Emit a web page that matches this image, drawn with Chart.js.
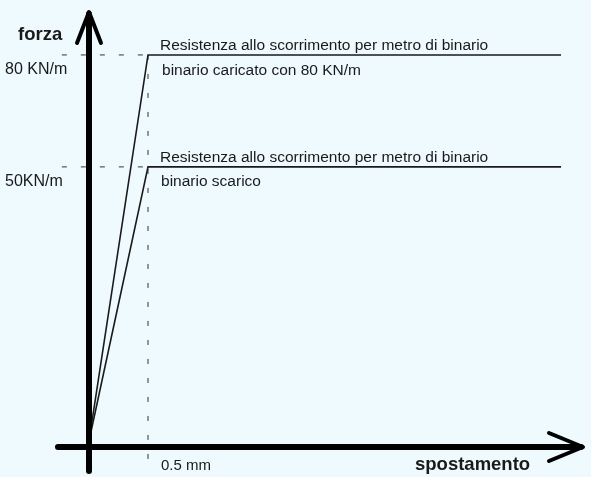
<!DOCTYPE html>
<html>
<head>
<meta charset="utf-8">
<script src="https://cdn.jsdelivr.net/npm/chart.js@4.4.0/dist/chart.umd.min.js"></script>
<style>
  html, body { margin: 0; padding: 0; background: #eefafd; }
  canvas { display: block; }
</style>
</head>
<body>
<canvas id="chart" width="591" height="477"></canvas>
<script>
// displacement (mm) and force (KN/m) of the two curves
const spostamento = [0, 0.5, 4.0];
const forzaCaricato = [0, 80, 80];
const forzaScarico = [0, 50, 50];

const yTicks = [80, 50];
const yTickLabels = ["80 KN/m", "50KN/m"];
const xTicks = [0.5];
const xTickLabels = ["0.5 mm"];

const testoSopra = "Resistenza allo scorrimento per metro di binario";
const testoSotto = ["binario caricato con 80 KN/m", "binario scarico"];

const FONT = "'Liberation Sans', Arial, sans-serif";
const INK = "#1a1a1a";

// the sketch is not to scale: the 50 level is drawn where 56.8 would be
const warpPts = [[0, 0], [50, 56.8], [80, 80]];
function warp(v) {
  if (v <= 0 || v >= 80) return v;
  for (let i = 1; i < warpPts.length; i++) {
    const [a0, b0] = warpPts[i - 1], [a1, b1] = warpPts[i];
    if (v <= a1) return b0 + (v - a0) * (b1 - b0) / (a1 - a0);
  }
  return v;
}
function unwarp(w) {
  if (w <= 0 || w >= 80) return w;
  for (let i = 1; i < warpPts.length; i++) {
    const [a0, b0] = warpPts[i - 1], [a1, b1] = warpPts[i];
    if (w <= b1) return a0 + (w - b0) * (a1 - a0) / (b1 - b0);
  }
  return w;
}

class SketchScale extends Chart.LinearScale {
  getPixelForValue(v) { return super.getPixelForValue(warp(v)); }
  getValueForPixel(p) { return unwarp(super.getValueForPixel(p)); }
}
SketchScale.id = "sketch";
SketchScale.defaults = Chart.LinearScale.defaults;
Chart.register(SketchScale);

const pts = (xs, ys) => xs.map((x, i) => ({ x: x, y: ys[i] }));

const guide = {
  borderColor: "#333",
  borderWidth: 1,
  borderDash: [5, 14],
  pointRadius: 0,
  fill: false
};

const datasets = [
  { data: pts(spostamento, forzaCaricato), borderColor: INK, borderWidth: 1.6, pointRadius: 0, fill: false },
  { data: pts(spostamento, forzaScarico), borderColor: INK, borderWidth: 1.6, pointRadius: 0, fill: false }
];
yTicks.forEach(v => {
  datasets.push(Object.assign({ data: [{ x: -0.23, y: v }, { x: xTicks[0], y: v }] }, guide));
});
datasets.push(Object.assign({ data: [{ x: xTicks[0], y: yTicks[0] }, { x: xTicks[0], y: -6 }] }, guide));

const sketchPlugin = {
  id: "sketch",
  afterDatasetsDraw(chart) {
    const ctx = chart.ctx;
    const xs = chart.scales.x, ys = chart.scales.y;
    const area = chart.chartArea;
    const ox = xs.getPixelForValue(0);
    const oy = ys.getPixelForValue(0);
    const axisY = oy + 6;

    ctx.save();
    ctx.strokeStyle = "#000";
    ctx.lineCap = "round";
    ctx.lineJoin = "round";

    // thick axes
    ctx.lineWidth = 6;
    ctx.beginPath();
    ctx.moveTo(ox, area.bottom);
    ctx.lineTo(ox, area.top + 2);
    ctx.moveTo(area.left, axisY);
    ctx.lineTo(area.right - 2, axisY);
    ctx.stroke();

    // arrow heads
    ctx.lineWidth = 4;
    ctx.beginPath();
    ctx.moveTo(ox - 12, area.top + 31);
    ctx.lineTo(ox, area.top);
    ctx.lineTo(ox + 12, area.top + 31);
    ctx.moveTo(area.right - 34, axisY - 14);
    ctx.lineTo(area.right, axisY);
    ctx.lineTo(area.right - 34, axisY + 14);
    ctx.stroke();

    ctx.fillStyle = INK;
    ctx.textBaseline = "alphabetic";
    ctx.textAlign = "left";

    // axis titles
    ctx.font = "bold 18.5px " + FONT;
    ctx.fillText("forza", 18, 40);
    ctx.fillText("spostamento", 415, 470);

    // tick labels
    ctx.font = "16px " + FONT;
    yTicks.forEach((v, i) => {
      ctx.fillText(yTickLabels[i], 5, ys.getPixelForValue(v) + 19);
    });
    ctx.font = "15px " + FONT;
    xTicks.forEach((v, i) => {
      ctx.fillText(xTickLabels[i], xs.getPixelForValue(v) + 13, 470);
    });

    // level annotations
    ctx.font = "15.5px " + FONT;
    yTicks.forEach((v, i) => {
      const py = ys.getPixelForValue(v);
      const px = xs.getPixelForValue(xTicks[0]);
      ctx.fillText(testoSopra, px + 12, py - 5);
      ctx.fillText(testoSotto[i], px + 14 - i, py + 20 - i);
    });
    ctx.restore();
  }
};

new Chart(document.getElementById("chart"), {
  type: "line",
  data: { datasets: datasets },
  options: {
    responsive: false,
    animation: false,
    layout: { padding: { left: 58, right: 8, top: 12, bottom: 6 } },
    plugins: { legend: { display: false }, tooltip: { enabled: false } },
    elements: { line: { tension: 0 } },
    scales: {
      x: { type: "linear", display: false, min: -0.2627, max: 4.186 },
      y: { type: "sketch", display: false, min: -6.22, max: 88.9 }
    }
  },
  plugins: [sketchPlugin]
});
</script>
</body>
</html>
